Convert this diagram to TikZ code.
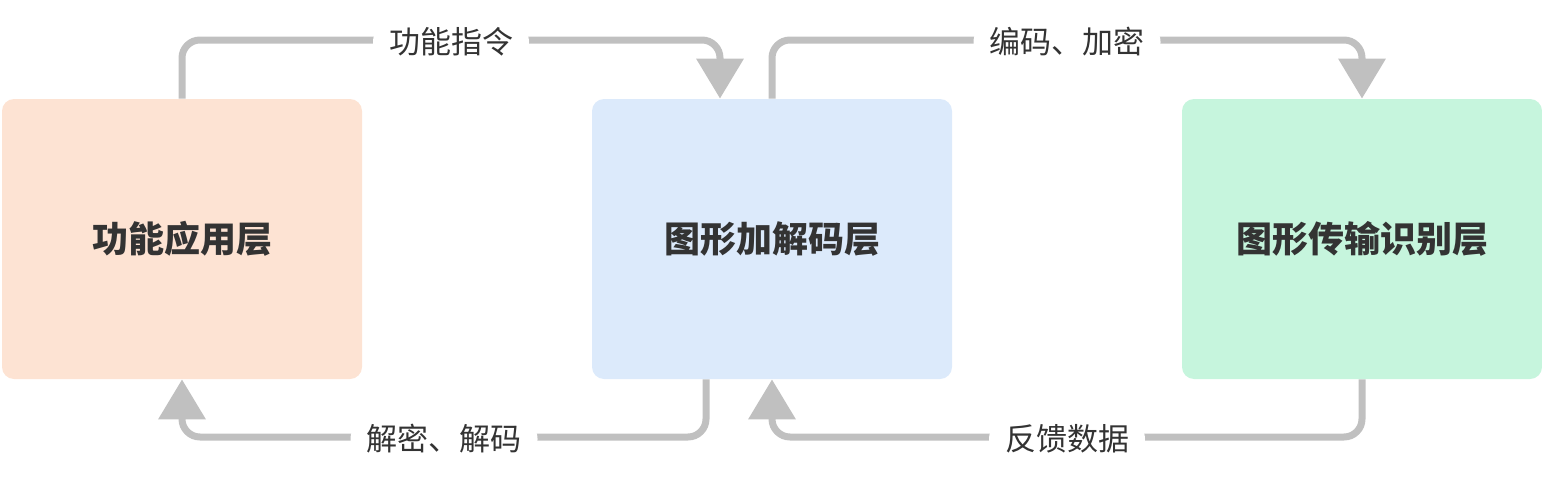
\documentclass[tikz,border=0pt]{standalone}
\usepackage{fontspec}
\setmainfont{Noto Sans CJK SC}
\usetikzlibrary{arrows.meta,calc}
\definecolor{peach}{HTML}{FDE3D3}
\definecolor{skyblue}{HTML}{DCEAFB}
\definecolor{mint}{HTML}{C6F5DD}
\definecolor{linegray}{HTML}{C0C0C0}
\definecolor{txt}{HTML}{333333}
\tikzset{
  layer/.style={rounded corners=6pt, minimum width=180pt, minimum height=140pt,
    inner sep=0pt, text=txt, font=\fontsize{18pt}{21pt}\selectfont\bfseries},
  flow/.style={draw=linegray, line width=3.5pt, rounded corners=9pt,
    -{Triangle[length=20pt,width=23pt]}},
  lbl/.style={fill=white, inner xsep=8pt, inner ysep=2pt, text=txt,
    font=\fontsize{15.5pt}{18pt}\selectfont}
}
\begin{document}
\begin{tikzpicture}[x=0.5pt,y=-0.5pt]
    \useasboundingbox (0,0) rectangle (1542,482);

    % Schichten
    \node[layer, fill=peach] (app) at (182,239) {功能应用层};
    \node[layer, fill=skyblue] (codec) at (772,239) {图形加解码层};
    \node[layer, fill=mint] (trans) at (1362,239) {图形传输识别层};

    % oben
    \draw[flow] (app.north) -- (182,40) -- node[lbl, yshift=-1pt] {功能指令} (720,40)
        -- ($(codec.north)+(-52,0)$);
    \draw[flow] (codec.north) -- (772,40) -- node[lbl, yshift=-1pt] {编码、加密} (1362,40)
        -- (trans.north);

    % unten
    \draw[flow] ($(codec.south)+(-66,0)$) -- (706,437) -- node[lbl, yshift=-1pt] {解密、解码} (182,437)
        -- (app.south);
    \draw[flow] (trans.south) -- (1362,437) -- node[lbl, yshift=-1pt] {反馈数据} (772,437)
        -- (codec.south);
\end{tikzpicture}
\end{document}
